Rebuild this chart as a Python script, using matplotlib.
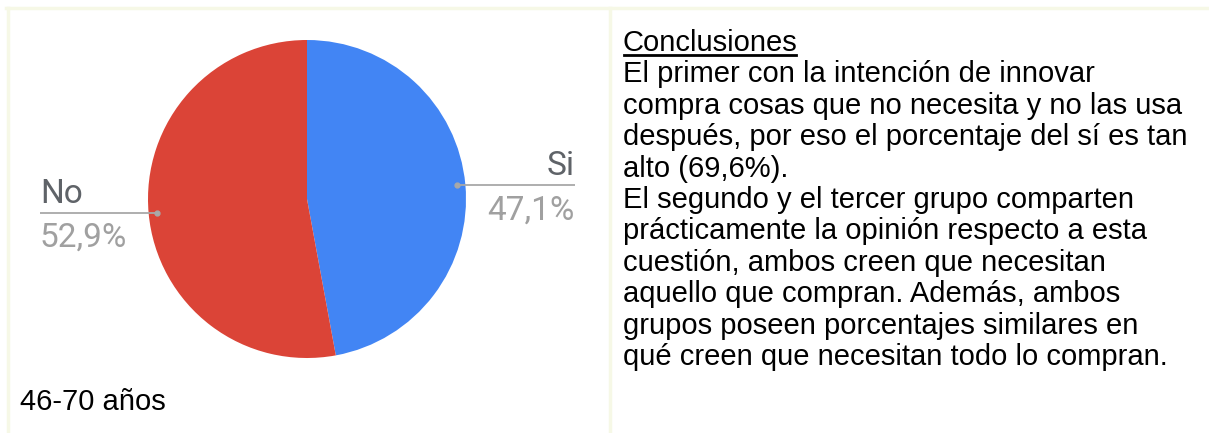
import numpy as np
import matplotlib
matplotlib.use("Agg")
import matplotlib.pyplot as plt

# data
labels = ["Si", "No"]
values = [47.1, 52.9]
colors = ["#4285f4", "#db4437"]
group_label = "46-70 años"

title = "Conclusiones"
lines = [
    "El primer con la intención de innovar",
    "compra cosas que no necesita y no las usa",
    "después, por eso el porcentaje del sí es tan",
    "alto (69,6%).",
    "El segundo y el tercer grupo comparten",
    "prácticamente la opinión respecto a esta",
    "cuestión, ambos creen que necesitan",
    "aquello que compran. Además, ambos",
    "grupos poseen porcentajes similares en",
    "qué creen que necesitan todo lo compran.",
]

W, H = 1209, 433
fig = plt.figure(figsize=(W / 100, H / 100), dpi=100)
ax = fig.add_axes([0, 0, 1, 1])

# table borders (light cream)
border = "#f6f8e6"
ax.plot([6, W], [8, 8], color=border, lw=2.5)
ax.plot([7.5, 7.5], [8, H], color=border, lw=2.5)
ax.plot([610, 610], [8, H], color=border, lw=2.5)

# pie: y axis is inverted, so counterclock=True draws clockwise on screen
cx, cy, r = 307, 199, 159
wedges, _ = ax.pie(values, colors=colors, startangle=-90, counterclock=True,
                   center=(cx, cy), radius=r, frame=True,
                   wedgeprops=dict(linewidth=0))
ax.set_xlim(0, W)
ax.set_ylim(H, 0)
ax.set_aspect("equal")
ax.axis("off")

# slice labels with leader lines
for w, lab, val in zip(wedges, labels, values):
    mid = np.deg2rad((w.theta1 + w.theta2) / 2)
    px = cx + 0.95 * r * np.cos(mid)
    py = cy + 0.95 * r * np.sin(mid)
    if px > cx:
        end, ha = 575, "right"
    else:
        end, ha = 40, "left"
    ax.plot([px, end], [py, py], color="#a8a8a8", lw=1.3, solid_capstyle="butt")
    ax.plot(px, py, "o", color="#a8a8a8", ms=3.5)
    ax.text(end, py - 10, lab, ha=ha, va="baseline", fontsize=24,
            family="Roboto", color="#5f6368")
    pct = f"{val:.1f}".replace(".", ",") + "%"
    ax.text(end, py + 34, pct, ha=ha, va="baseline", fontsize=24,
            family="Roboto", color="#a0a0a0")

fs = 21
ax.text(20, 410, group_label, ha="left", va="baseline", fontsize=fs,
        family="Liberation Sans", color="black")

# conclusions text
x0, y0, step = 623, 51, 31.4
t = ax.text(x0, y0, title, ha="left", va="baseline", fontsize=fs,
            family="Liberation Sans", color="black")
for i, ln in enumerate(lines):
    ax.text(x0, y0 + step * (i + 1), ln, ha="left", va="baseline",
            fontsize=fs, family="Liberation Sans", color="black")

fig.canvas.draw()
bb = t.get_window_extent().transformed(ax.transData.inverted())
ax.plot([bb.x0 + 1, bb.x1 - 2], [y0 + 4, y0 + 4], color="black", lw=2)

fig.savefig("out.png", dpi=100, facecolor="white")
